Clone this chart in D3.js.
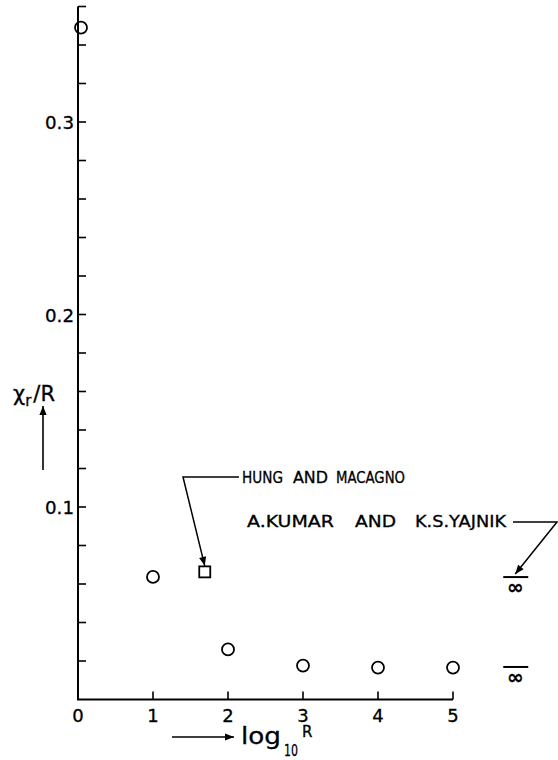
<!DOCTYPE html>
<meta charset="UTF-8">
<html>
<head>
	<title>xr/R vs log10 R</title>
	<script src="https://d3js.org/d3.v7.min.js"></script>
	<style>
		body { margin: 0; background: #fff; }
		text { font-family: "DejaVu Sans", "Liberation Sans", sans-serif; fill: #000; stroke: #000; stroke-width: 0.3px; }
	</style>
</head>
<body>
	<svg id="chart" width="558" height="760"></svg>

	<script>
		// present results (circles)
		var logR = [0.04, 1, 2, 3, 4, 5];
		var xrR = [0.349, 0.0637, 0.026, 0.0176, 0.0166, 0.0166];
		// Hung and Macagno (square)
		var hungLogR = [1.69];
		var hungXr = [0.0663];
		// R -> infinity limits
		var infXr = [0.0636, 0.0169];
		var infPos = 5.83;

		var xTicks = [0, 1, 2, 3, 4, 5];
		var yTickLabels = [0.1, 0.2, 0.3];
		var yMinor = d3.range(0, 0.361, 0.02);

		var svg = d3.select("#chart");

		var x = d3.scaleLinear()
			.domain([0, 5])
			.range([78, 453]);
		var y = d3.scaleLinear()
			.domain([0, 0.36])
			.range([699.5, 6.5]);

		// axes lines
		svg.append("line")
			.attr("x1", x(0)).attr("x2", x(0))
			.attr("y1", y(0)).attr("y2", y(0.36))
			.attr("stroke", "#000").attr("stroke-width", 2);
		svg.append("line")
			.attr("x1", x(0) - 1).attr("x2", x(5))
			.attr("y1", y(0)).attr("y2", y(0))
			.attr("stroke", "#000").attr("stroke-width", 2);

		// y ticks (pointing inward)
		svg.selectAll("ytick")
			.data(yMinor.slice(1))
			.enter()
			.append("line")
				.attr("x1", x(0)).attr("x2", x(0) + 8)
				.attr("y1", function(d){ return y(d)})
				.attr("y2", function(d){ return y(d)})
				.attr("stroke", "#000").attr("stroke-width", 1.6);

		svg.selectAll("ylab")
			.data(yTickLabels)
			.enter()
			.append("text")
				.attr("x", x(0) - 4)
				.attr("y", function(d){ return y(d) + 7})
				.attr("text-anchor", "end")
				.attr("textLength", 29)
				.attr("lengthAdjust", "spacingAndGlyphs")
				.style("font-size", "18px")
				.text(function(d){ return d.toFixed(1)});

		// x ticks
		svg.selectAll("xtick")
			.data(xTicks.slice(1))
			.enter()
			.append("line")
				.attr("x1", function(d){ return x(d)})
				.attr("x2", function(d){ return x(d)})
				.attr("y1", y(0)).attr("y2", y(0) - 8)
				.attr("stroke", "#000").attr("stroke-width", 1.6);

		svg.selectAll("xlab")
			.data(xTicks)
			.enter()
			.append("text")
				.attr("x", function(d){ return x(d)})
				.attr("y", y(0) + 22)
				.attr("text-anchor", "middle")
				.style("font-size", "18px")
				.text(function(d){ return d});

		// data circles
		svg.selectAll("pt")
			.data(logR)
			.enter()
			.append("circle")
				.attr("cx", function(d){ return x(d)})
				.attr("cy", function(d, i){ return y(xrR[i])})
				.attr("r", 6)
				.attr("fill", "none")
				.attr("stroke", "#000")
				.attr("stroke-width", 1.8);

		// Hung and Macagno square
		svg.selectAll("sq")
			.data(hungLogR)
			.enter()
			.append("rect")
				.attr("x", function(d){ return x(d) - 5.5})
				.attr("y", function(d, i){ return y(hungXr[i]) - 5.5})
				.attr("width", 11)
				.attr("height", 11)
				.attr("fill", "none")
				.attr("stroke", "#000")
				.attr("stroke-width", 1.8);

		// infinity markers
		svg.selectAll("infbar")
			.data(infXr)
			.enter()
			.append("line")
				.attr("x1", x(infPos) - 12).attr("x2", x(infPos) + 13)
				.attr("y1", function(d){ return y(d)})
				.attr("y2", function(d){ return y(d)})
				.attr("stroke", "#000").attr("stroke-width", 2);
		svg.selectAll("inftxt")
			.data(infXr)
			.enter()
			.append("text")
				.attr("x", x(infPos))
				.attr("y", function(d){ return y(d) + 17})
				.attr("text-anchor", "middle")
				.style("font-size", "20px")
				.style("font-weight", "bold")
				.text("\u221E");

		// arrowhead
		svg.append("defs").append("marker")
			.attr("id", "arrBig")
			.attr("viewBox", "0 0 10 10")
			.attr("refX", 10).attr("refY", 5)
			.attr("markerWidth", 12).attr("markerHeight", 9)
			.attr("markerUnits", "userSpaceOnUse")
			.attr("orient", "auto")
			.append("path")
				.attr("d", "M0,1 L10,5 L0,9 Z")
				.attr("fill", "#000");

		// word-by-word so the wide lettering spacing can be matched
		function words(list, yb){
			list.forEach(function(w){
				svg.append("text")
					.attr("x", w[1]).attr("y", yb)
					.attr("textLength", w[2] - w[1])
					.attr("lengthAdjust", "spacingAndGlyphs")
					.style("font-size", "15px")
					.text(w[0]);
			});
		}

		// Hung and Macagno label and leader
		words([["HUNG", 242, 283], ["AND", 293, 328], ["MACAGNO", 336, 405]], 483);
		svg.append("polyline")
			.attr("points", [[239, 477], [183, 477], [x(hungLogR[0]), y(hungXr[0]) - 6]].join(" "))
			.attr("fill", "none")
			.attr("stroke", "#000").attr("stroke-width", 1.5)
			.attr("marker-end", "url(#arrBig)");

		// Kumar and Yajnik label and leader
		words([["A.KUMAR", 247, 334], ["AND", 355, 396], ["K.S.YAJNIK", 415, 506]], 527);
		svg.append("polyline")
			.attr("points", [[513, 522], [557, 522], [x(infPos), y(infXr[0]) - 3]].join(" "))
			.attr("fill", "none")
			.attr("stroke", "#000").attr("stroke-width", 1.5)
			.attr("marker-end", "url(#arrBig)");

		// y axis title with arrow
		var yt = svg.append("text")
			.attr("x", 13).attr("y", 401)
			.style("font-size", "21px");
		yt.append("tspan").text("\u03C7");
		yt.append("tspan").attr("dy", 5).style("font-size", "15px").text("r");
		yt.append("tspan").attr("dx", 2).attr("dy", -5).text("/R");
		svg.append("line")
			.attr("x1", 43).attr("x2", 43)
			.attr("y1", 470).attr("y2", 406)
			.attr("stroke", "#000").attr("stroke-width", 1.6)
			.attr("marker-end", "url(#arrBig)");

		// x axis title with arrow
		svg.append("line")
			.attr("x1", 172).attr("x2", 234)
			.attr("y1", 737).attr("y2", 737)
			.attr("stroke", "#000").attr("stroke-width", 1.6)
			.attr("marker-end", "url(#arrBig)");
		svg.append("text")
			.attr("x", 241).attr("y", 744)
			.attr("textLength", 40)
			.attr("lengthAdjust", "spacingAndGlyphs")
			.style("font-size", "23px")
			.text("log");
		svg.append("text")
			.attr("x", 284).attr("y", 756)
			.attr("textLength", 14)
			.attr("lengthAdjust", "spacingAndGlyphs")
			.style("font-size", "16px")
			.text("10");
		svg.append("text")
			.attr("x", 302).attr("y", 737)
			.style("font-size", "15px")
			.text("R");
	</script>
</body>
</html>
